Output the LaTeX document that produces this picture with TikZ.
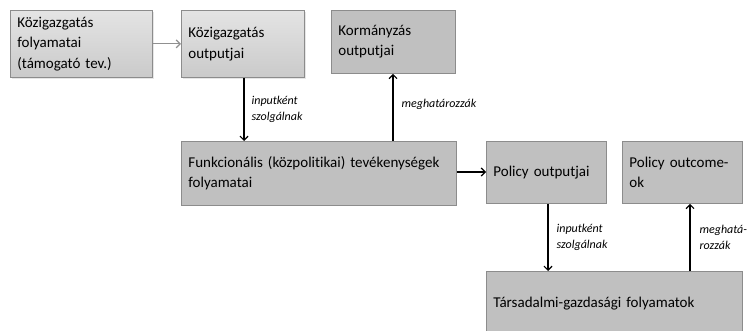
\documentclass[tikz,border=0pt]{standalone}
\usepackage{fontspec}
\setmainfont[Ligatures={NoCommon}]{Carlito}
\usetikzlibrary{arrows.meta,shadows}
\definecolor{boxfill}{HTML}{C0C0C0}
\definecolor{boxline}{HTML}{8C8C8C}
\definecolor{lighttop}{HTML}{E4E4E4}
\definecolor{lightbot}{HTML}{CACACA}
\definecolor{softarrow}{HTML}{909090}
\tikzset{
  box/.style={draw=boxline, line width=0.8pt, fill=boxfill, anchor=north west,
    align=left, inner xsep=7pt, inner ysep=2pt, font=\fontsize{15}{20.5}\selectfont},
  softbox/.style={box, top color=lighttop, bottom color=lightbot,
    drop shadow={opacity=0.2, shadow xshift=1.5pt, shadow yshift=-1.5pt}},
  flow/.style={line width=1.2pt, -{Straight Barb[length=4pt,width=8pt]}},
  softflow/.style={line width=1.2pt, draw=softarrow, -{Straight Barb[length=4pt,width=8pt]}},
  lbl/.style={font=\fontsize{12}{16}\selectfont\itshape, align=left, anchor=west, inner sep=0pt}
}
\begin{document}
\begin{tikzpicture}[x=1pt,y=-1pt]
\useasboundingbox (0,0) rectangle (752,331);
% upper row
\node[softbox, text width=128pt, minimum height=67pt] (kfoly) at (10,10)
  {Közigazgatás\\folyamatai\\(támogató tev.)};
\node[softbox, text width=109pt, minimum height=67pt] (kout) at (181,10)
  {Közigazgatás\\outputjai};
\node[box, text width=110pt, minimum height=63pt] (korm) at (331,10)
  {Kormányzás\\outputjai};
% middle row
\node[box, text width=261pt, minimum height=64pt] (funk) at (181,141)
  {Funkcionális (közpolitikai) tevékenységek\\folyamatai};
\node[box, text width=106pt, minimum height=62pt] (pout) at (486,141)
  {Policy outputjai};
\node[box, text width=106pt, minimum height=62pt] (pcome) at (622,141)
  {Policy outcome-\\ok};
% bottom box runs off the lower edge
\node[box, text width=242pt, minimum height=64pt] (tars) at (486,271)
  {Társadalmi-gazdasági folyamatok};
% connectors
\draw[softflow] (kfoly.east) -- (kout.west);
\draw[flow] (kout.south -| 244,0) -- (funk.north -| 244,0)
  node[lbl, pos=0.5, xshift=7pt] {inputként\\szolgálnak};
\draw[flow] (funk.north -| 393,0) -- (korm.south -| 393,0)
  node[lbl, pos=0.55, xshift=8pt] {meghatározzák};
\draw[flow] (funk.east |- 0,172) -- (pout.west |- 0,172);
\draw[flow] (pout.south -| 548,0) -- (tars.north -| 548,0)
  node[lbl, pos=0.5, xshift=8pt] {inputként\\szolgálnak};
\draw[flow] (tars.north -| 690,0) -- (pcome.south -| 690,0)
  node[lbl, pos=0.5, xshift=9pt] {meghatá-\\rozzák};
\end{tikzpicture}
\end{document}
